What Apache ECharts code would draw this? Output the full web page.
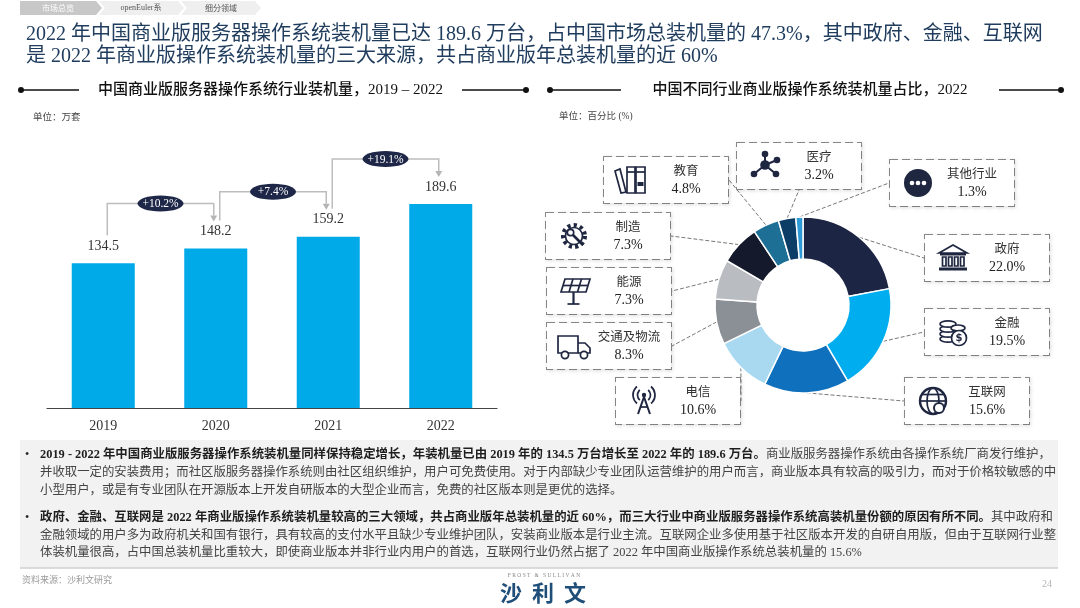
<!DOCTYPE html>
<html lang="zh">
<head>
<meta charset="utf-8">
<title>中国商业版服务器操作系统装机量</title>
<script src="https://cdn.jsdelivr.net/npm/echarts@6/dist/echarts.min.js"></script>
<style>
    html, body { margin: 0; padding: 0; background: #fff; }
    #main { width: 1080px; height: 608px; }
</style>
</head>
<body>
<div id="main"></div>
<script type="text/javascript">
    // 装机量（万套）
    var years = ['2019', '2020', '2021', '2022'];
    var installs = [134.5, 148.2, 159.2, 189.6];
    var growth = ['+10.2%', '+7.4%', '+19.1%'];

    // 行业占比（%）
    var industries = ['政府', '金融', '互联网', '电信', '交通及物流', '能源', '制造', '教育', '医疗', '其他行业'];
    var shares = [22.0, 19.5, 15.6, 10.6, 8.3, 7.3, 7.3, 4.8, 3.2, 1.3];

    var sliceColors = ['#1c2544', '#00aeef', '#0f70bd', '#a9d9f1', '#8b9096', '#b9bdc1', '#141a2c', '#1d6f95', '#0c3d66', '#2f9bd6'];
    // 标签框左上角位置
    var boxPos = [[925, 235], [925, 309], [905, 378], [616, 378], [547, 323], [547, 268], [546, 213], [604, 157], [737, 143], [890, 160]];
    var iconKeys = ['bank', 'coins', 'globe', 'antenna', 'truck', 'solar', 'gear', 'books', 'molecule', 'more'];

    var CJK = "'Noto Sans CJK SC'";
    var MIX = "'Liberation Serif', 'Noto Sans CJK SC'";
    var IC = '#1f2640';

    var chart = echarts.init(document.getElementById('main'));

    chart.setOption({
        animation: false,
        grid: {left: 47, right: 583, top: 139, bottom: 200},
        xAxis: {
            type: 'category',
            data: years,
            axisLine: {lineStyle: {color: '#444', width: 1.2}},
            axisTick: {show: false},
            axisLabel: {margin: 11, fontSize: 14, fontFamily: MIX, color: '#333'}
        },
        yAxis: {type: 'value', min: 0, max: 250, show: false},
        series: [{
            type: 'bar',
            data: installs,
            barWidth: 63,
            silent: true,
            itemStyle: {color: '#00a9e8'},
            label: {show: true, position: 'top', distance: 10, fontSize: 14, fontFamily: MIX, color: '#333'}
        }, {
            type: 'pie',
            center: [803, 305],
            radius: [46, 88],
            startAngle: 90,
            clockwise: true,
            silent: true,
            avoidLabelOverlap: false,
            itemStyle: {borderColor: '#fff', borderWidth: 1.5},
            data: industries.map(function (n, i) {
                return {name: n, value: shares[i], itemStyle: {color: sliceColors[i]}};
            }),
            label: {
                show: true,
                formatter: function (p) {
                    return '{n|' + p.name + '}\n{v|' + p.value.toFixed(1) + '%}';
                },
                width: 84,
                height: 38,
                padding: [4, 0, 4, 40],
                backgroundColor: '#fff',
                borderColor: '#8a8a8a',
                borderWidth: 1,
                borderType: 'dashed',
                shadowColor: 'rgba(0,0,0,0.12)',
                shadowBlur: 4,
                shadowOffsetX: 1,
                shadowOffsetY: 1,
                rich: {
                    n: {fontSize: 12.5, fontFamily: CJK, color: '#333', lineHeight: 19, align: 'center'},
                    v: {fontSize: 14, fontFamily: MIX, color: '#222', lineHeight: 19, align: 'center'}
                }
            },
            labelLine: {show: true, length: 0, length2: 0, lineStyle: {color: '#777', width: 1, type: 'dashed'}},
            labelLayout: function (p) {
                var b = boxPos[p.dataIndex];
                return {x: b[0], y: b[1], align: 'left', verticalAlign: 'top'};
            }
        }]
    });

    function txt(x, y, text, size, color, extra) {
        var st = {
            text: text, fontSize: size, fontFamily: CJK, fill: color,
            align: 'left', textAlign: 'left', verticalAlign: 'middle', textVerticalAlign: 'middle'
        };
        for (var k in extra) st[k] = extra[k];
        return {type: 'text', x: x, y: y, silent: true, style: st};
    }

    function sline(pts, color, w, dash) {
        return {type: 'polyline', silent: true, shape: {points: pts},
            style: {stroke: color, lineWidth: w, fill: null, lineDash: dash || null}};
    }

    function header(x0, x1, tx0, tx1, text) {
        return [
            sline([[x0, 90], [tx0, 90]], '#111', 1.3),
            sline([[tx1, 90], [x1, 90]], '#111', 1.3),
            {type: 'circle', silent: true, shape: {cx: x0, cy: 90, r: 3}, style: {fill: '#111'}},
            {type: 'circle', silent: true, shape: {cx: x1, cy: 90, r: 3}, style: {fill: '#111'}},
            txt((tx0 + tx1) / 2, 90, text, 15, '#111', {align: 'center', textAlign: 'center', fontFamily: MIX, fontWeight: 500})
        ];
    }

    // 行业图标
    function icon(key) {
        var s = {stroke: IC, lineWidth: 1.7, fill: null};
        var f = {fill: IC};
        var w = {stroke: IC, lineWidth: 1.7, fill: '#fff'};
        switch (key) {
            case 'bank':
                return [
                    {type: 'polygon', shape: {points: [[-14, -5], [0, -13], [14, -5]]}, style: s},
                    {type: 'rect', shape: {x: -13, y: -5, width: 26, height: 2.5}, style: f},
                    {type: 'rect', shape: {x: -10.5, y: -1, width: 3.5, height: 9}, style: s},
                    {type: 'rect', shape: {x: -4.5, y: -1, width: 3.5, height: 9}, style: s},
                    {type: 'rect', shape: {x: 1.5, y: -1, width: 3.5, height: 9}, style: s},
                    {type: 'rect', shape: {x: 7.5, y: -1, width: 3.5, height: 9}, style: s},
                    {type: 'rect', shape: {x: -14, y: 9.5, width: 28, height: 3}, style: f}
                ];
            case 'coins':
                return [
                    {type: 'ellipse', shape: {cx: -5, cy: 7, rx: 8, ry: 3.2}, style: w},
                    {type: 'ellipse', shape: {cx: -5, cy: 2, rx: 8, ry: 3.2}, style: w},
                    {type: 'ellipse', shape: {cx: -5, cy: -3, rx: 8, ry: 3.2}, style: w},
                    {type: 'ellipse', shape: {cx: -5, cy: -8, rx: 8, ry: 3.2}, style: w},
                    {type: 'ellipse', shape: {cx: 5, cy: -4, rx: 7, ry: 3}, style: w},
                    {type: 'circle', shape: {cx: 6, cy: 6, r: 7.5}, style: w},
                    {type: 'text', x: 6, y: 6.5, style: {text: '$', fontSize: 10, fontFamily: 'DejaVu Sans', fontWeight: 'bold', fill: IC,
                        align: 'center', textAlign: 'center', verticalAlign: 'middle', textVerticalAlign: 'middle'}}
                ];
            case 'globe':
                return [
                    {type: 'circle', shape: {cx: 0, cy: 0, r: 13}, style: {stroke: IC, lineWidth: 2.4, fill: null}},
                    {type: 'ellipse', shape: {cx: 0, cy: 0, rx: 6, ry: 13}, style: s},
                    {type: 'polyline', shape: {points: [[-13, 0], [13, 0]]}, style: s},
                    {type: 'polyline', shape: {points: [[-11, -6.5], [11, -6.5]]}, style: s},
                    {type: 'circle', shape: {cx: 6, cy: 7, r: 5}, style: {stroke: IC, lineWidth: 2, fill: '#fff'}}
                ];
            case 'antenna':
                return [
                    {type: 'polyline', shape: {points: [[-6, 13], [0, -4], [6, 13]]}, style: {stroke: IC, lineWidth: 2, fill: null}},
                    {type: 'polyline', shape: {points: [[-3.5, 6], [3.5, 6]]}, style: s},
                    {type: 'circle', shape: {cx: 0, cy: -6, r: 2.2}, style: f},
                    {type: 'arc', shape: {cx: 0, cy: -6, r: 6.5, startAngle: Math.PI * 0.72, endAngle: Math.PI * 1.28}, style: s},
                    {type: 'arc', shape: {cx: 0, cy: -6, r: 11, startAngle: Math.PI * 0.72, endAngle: Math.PI * 1.28}, style: s},
                    {type: 'arc', shape: {cx: 0, cy: -6, r: 6.5, startAngle: -Math.PI * 0.28, endAngle: Math.PI * 0.28}, style: s},
                    {type: 'arc', shape: {cx: 0, cy: -6, r: 11, startAngle: -Math.PI * 0.28, endAngle: Math.PI * 0.28}, style: s}
                ];
            case 'truck':
                return [
                    {type: 'rect', shape: {x: -17, y: -10, width: 20, height: 17}, style: s},
                    {type: 'polyline', shape: {points: [[3, -3], [10, -3], [15, 2], [15, 7], [3, 7]]}, style: s},
                    {type: 'circle', shape: {cx: -10, cy: 9, r: 3.6}, style: w},
                    {type: 'circle', shape: {cx: 9, cy: 9, r: 3.6}, style: w}
                ];
            case 'solar':
                return [
                    {type: 'polygon', shape: {points: [[-10, -12], [15, -12], [11, 1], [-14, 1]]}, style: s},
                    {type: 'polyline', shape: {points: [[-2, -12], [-6, 1]]}, style: s},
                    {type: 'polyline', shape: {points: [[6.5, -12], [2.5, 1]]}, style: s},
                    {type: 'polyline', shape: {points: [[-12, -5.5], [13, -5.5]]}, style: s},
                    {type: 'polyline', shape: {points: [[-1.5, 1], [-1.5, 13]]}, style: {stroke: IC, lineWidth: 2.2, fill: null}},
                    {type: 'polyline', shape: {points: [[-7.5, 13], [4.5, 13]]}, style: s}
                ];
            case 'gear':
                return [
                    {type: 'circle', shape: {cx: 0, cy: 0, r: 11}, style: {stroke: IC, lineWidth: 4, fill: null, lineDash: [3.2, 3.2]}},
                    {type: 'circle', shape: {cx: 0, cy: 0, r: 8.5}, style: w},
                    {type: 'polyline', shape: {points: [[-2, -2], [9, 9]]}, style: {stroke: IC, lineWidth: 2.6, fill: null}},
                    {type: 'circle', shape: {cx: -3.5, cy: -3.5, r: 3.2}, style: w}
                ];
            case 'books':
                return [
                    {type: 'polygon', shape: {points: [[-17, -9], [-12, -11], [-6, 12], [-11, 13]]}, style: s},
                    {type: 'rect', shape: {x: -5, y: -13, width: 8, height: 26}, style: s},
                    {type: 'rect', shape: {x: 4, y: -13, width: 9, height: 26}, style: s},
                    {type: 'rect', shape: {x: 5.5, y: 2, width: 6, height: 4}, style: f},
                    {type: 'polyline', shape: {points: [[-5, -8], [3, -8]]}, style: s},
                    {type: 'polyline', shape: {points: [[4, -8], [13, -8]]}, style: s}
                ];
            case 'molecule':
                var nodes = [[0, -12], [-11, 8], [11, 8], [12, -6]];
                var out = [];
                nodes.forEach(function (n) {
                    out.push({type: 'polyline', shape: {points: [[0, -1], n]}, style: {stroke: IC, lineWidth: 2, fill: null}});
                });
                nodes.forEach(function (n) {
                    out.push({type: 'circle', shape: {cx: n[0], cy: n[1], r: 3.3}, style: f});
                });
                out.push({type: 'circle', shape: {cx: 0, cy: -1, r: 4.8}, style: f});
                return out;
            default:
                return [
                    {type: 'circle', shape: {cx: 0, cy: 0, r: 14}, style: f},
                    {type: 'circle', shape: {cx: -6, cy: 0, r: 2.3}, style: {fill: '#fff'}},
                    {type: 'circle', shape: {cx: 0, cy: 0, r: 2.3}, style: {fill: '#fff'}},
                    {type: 'circle', shape: {cx: 6, cy: 0, r: 2.3}, style: {fill: '#fff'}}
                ];
        }
    }

    var g = [];

    // 顶部导航
    g.push({type: 'polygon', silent: true, shape: {points: [[20, 1], [96, 1], [102, 8], [96, 15], [20, 15]]}, style: {fill: '#c8c8c8'}});
    g.push({type: 'polygon', silent: true, shape: {points: [[99, 1], [178, 1], [184, 8], [178, 15], [99, 15], [105, 8]]}, style: {fill: '#efefef'}});
    g.push({type: 'polygon', silent: true, shape: {points: [[181, 1], [255, 1], [261, 8], [255, 15], [181, 15], [187, 8]]}, style: {fill: '#efefef'}});
    g.push(txt(58, 8, '市场总览', 8, '#fff', {align: 'center', textAlign: 'center'}));
    g.push(txt(141, 8, 'openEuler系', 8, '#555', {align: 'center', textAlign: 'center', fontFamily: MIX}));
    g.push(txt(221, 8, '细分领域', 8, '#555', {align: 'center', textAlign: 'center'}));

    // 标题
    g.push(txt(26, 35, '2022 年中国商业版服务器操作系统装机量已达 189.6 万台，占中国市场总装机量的 47.3%，其中政府、金融、互联网', 20, '#203d5e', {fontFamily: MIX}));
    g.push(txt(26, 57, '是 2022 年商业版操作系统装机量的三大来源，共占商业版年总装机量的近 60%', 20, '#203d5e', {fontFamily: MIX}));

    // 小标题
    g = g.concat(header(21, 526, 79, 462, '中国商业版服务器操作系统行业装机量，2019 – 2022'));
    g = g.concat(header(550, 1061, 621, 999, '中国不同行业商业版操作系统装机量占比，2022'));
    g.push(txt(33, 116, '单位：万套', 9.5, '#444'));
    g.push(txt(559, 116, '单位：百分比 (%)', 9.5, '#444', {fontFamily: MIX}));

    // 增长率标注
    for (var i = 0; i < growth.length; i++) {
        var p0 = chart.convertToPixel({seriesIndex: 0}, [i, installs[i]]);
        var p1 = chart.convertToPixel({seriesIndex: 0}, [i + 1, installs[i + 1]]);
        var xa = p0[0] + 4, xb = p1[0] - 2;
        var ya = p0[1] - 28, yTop = p1[1] - 45, yTip = p1[1] - 27;
        g.push(sline([[xa, ya], [xa, yTop], [xb, yTop], [xb, yTip - 6]], '#bdbdbd', 1.5));
        g.push({type: 'polygon', silent: true, shape: {points: [[xb - 3.5, yTip - 6], [xb + 3.5, yTip - 6], [xb, yTip]]}, style: {fill: '#b5b5b5'}});
        g.push({type: 'ellipse', silent: true, shape: {cx: (xa + xb) / 2, cy: yTop, rx: 23, ry: 8}, style: {fill: '#1f2748'}});
        g.push(txt((xa + xb) / 2, yTop + 0.5, growth[i], 11.5, '#fff', {align: 'center', textAlign: 'center', fontFamily: MIX}));
    }

    // 行业图标（放在标签框之上）
    boxPos.forEach(function (b, k) {
        var parts = icon(iconKeys[k]);
        parts.forEach(function (el) {
            el.x = (el.x || 0) + b[0] + 28;
            el.y = (el.y || 0) + b[1] + 23;
            el.z = 100;
            el.silent = true;
            g.push(el);
        });
    });

    // 底部说明
    g.push({type: 'rect', silent: true, shape: {x: 20, y: 440, width: 1038, height: 128}, style: {fill: '#f2f2f2'}});
    g.push(sline([[20, 568], [1058, 568]], '#cfcfcf', 1.5));
    var rich = {
        b: {fontSize: 12.4, fontFamily: MIX, fontWeight: 'bold', fill: '#1e1e1e'},
        n: {fontSize: 12.4, fontFamily: MIX, fill: '#444'}
    };
    var notes = [
        [455, '{b|2019 - 2022 年中国商业版服务器操作系统装机量同样保持稳定增长，年装机量已由 2019 年的 134.5 万台增长至 2022 年的 189.6 万台。}{n|商业版服务器操作系统由各操作系统厂商发行维护，}', true],
        [473, '{n|并收取一定的安装费用；而社区版服务器操作系统则由社区组织维护，用户可免费使用。对于内部缺少专业团队运营维护的用户而言，商业版本具有较高的吸引力，而对于价格较敏感的中}', false],
        [491, '{n|小型用户，或是有专业团队在开源版本上开发自研版本的大型企业而言，免费的社区版本则是更优的选择。}', false],
        [518, '{b|政府、金融、互联网是 2022 年商业版操作系统装机量较高的三大领域，共占商业版年总装机量的近 60%，而三大行业中商业版服务器操作系统高装机量份额的原因有所不同。}{n|其中政府和}', true],
        [536, '{n|金融领域的用户多为政府机关和国有银行，具有较高的支付水平且缺少专业维护团队，安装商业版本是行业主流。互联网企业多使用基于社区版本开发的自研自用版，但由于互联网行业整}', false],
        [553, '{n|体装机量很高，占中国总装机量比重较大，即使商业版本并非行业内用户的首选，互联网行业仍然占据了 2022 年中国商业版操作系统总装机量的 15.6%}', false]
    ];
    notes.forEach(function (nt) {
        if (nt[2]) g.push(txt(25, nt[0], '•', 12, '#222', {fontFamily: MIX}));
        g.push({type: 'text', x: 40, y: nt[0], silent: true,
            style: {text: nt[1], rich: rich, verticalAlign: 'middle', textVerticalAlign: 'middle', align: 'left', textAlign: 'left'}});
    });

    // 页脚
    g.push(txt(22, 580, '资料来源：沙利文研究', 9, '#9a9a9a'));
    g.push(txt(544, 576, 'F R O S T   &   S U L L I V A N', 5.5, '#888', {align: 'center', textAlign: 'center', fontFamily: MIX}));
    g.push(txt(543, 593, '沙  利  文', 22, '#1f4e79', {align: 'center', textAlign: 'center', fontWeight: 'bold'}));
    g.push(txt(1047, 584, '24', 10, '#b5b5b5', {align: 'center', textAlign: 'center', fontFamily: MIX}));

    chart.setOption({graphic: {elements: g}});
</script>
</body>
</html>
